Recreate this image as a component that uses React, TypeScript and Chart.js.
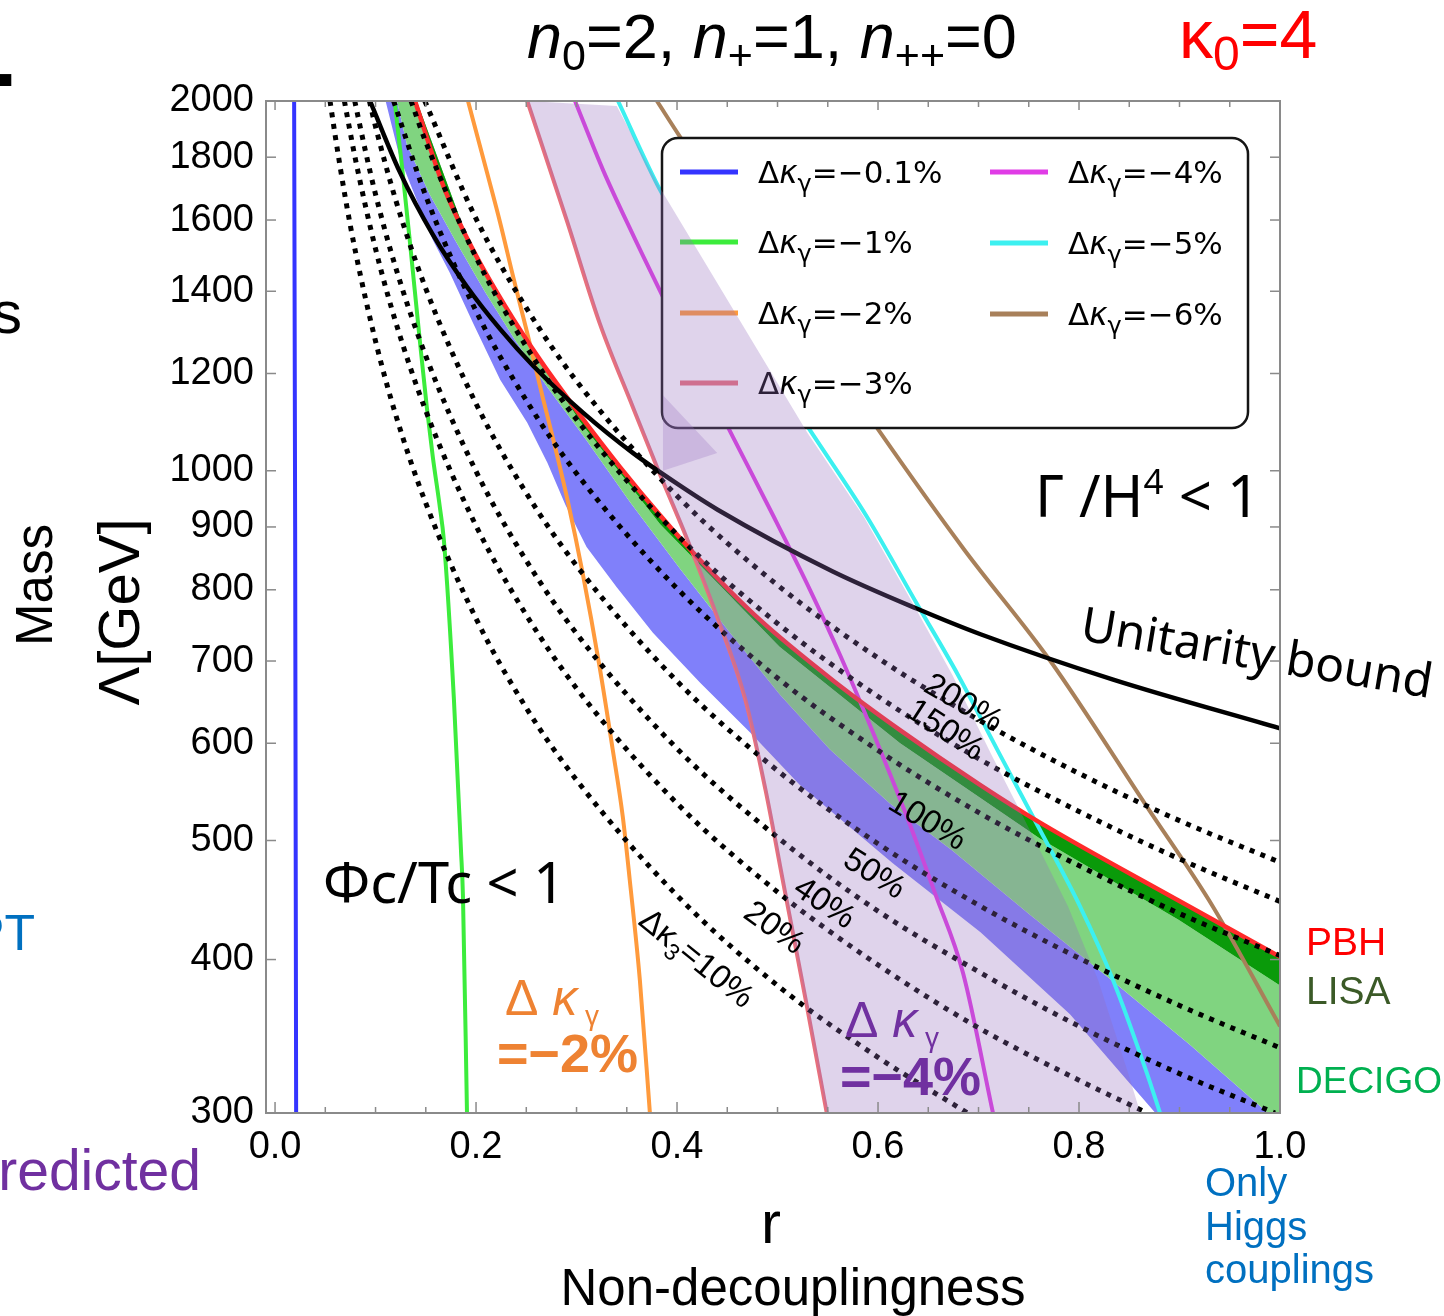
import React, { useEffect, useRef } from 'react';
import { Chart, registerables } from 'chart.js';

Chart.register(...registerables);

// ---------------- axes ----------------
const xTickValues = [0, 0.2, 0.4, 0.6, 0.8, 1.0];
const xMinorTickValues = [0, 0.05, 0.1, 0.15, 0.2, 0.25, 0.3, 0.35, 0.4, 0.45, 0.5, 0.55, 0.6, 0.65, 0.7, 0.75, 0.8, 0.85, 0.9, 0.95, 1.0];
const yTickValues = [300, 400, 500, 600, 700, 800, 900, 1000, 1200, 1400, 1600, 1800, 2000];

// ---------------- Δκγ lines (r, Λ) ----------------
const kg01R = [0.019, 0.020, 0.021];
const kg01M = [2000, 900, 300];
const kg1R = [0.119, 0.127, 0.134, 0.139, 0.144, 0.151, 0.157, 0.164, 0.168, 0.178, 0.185, 0.187, 0.191];
const kg1M = [2000, 1748, 1541, 1403, 1278, 1127, 1026, 934, 878, 651, 491, 450, 300];
const kg2R = [0.192, 0.211, 0.224, 0.237, 0.251, 0.267, 0.277, 0.291, 0.306, 0.323, 0.336, 0.346, 0.353, 0.363, 0.373];
const kg2M = [2000, 1748, 1592, 1438, 1294, 1142, 1059, 947, 826, 692, 593, 523, 464, 385, 300];
const kg3R = [0.251, 0.291, 0.323, 0.356, 0.380, 0.410, 0.440, 0.468, 0.488, 0.507, 0.528, 0.549];
const kg3M = [2000, 1592, 1319, 1127, 1007, 880, 760, 651, 550, 456, 371, 300];
const kg4R = [0.2985, 0.3264, 0.3562, 0.3861, 0.4209, 0.4557, 0.4955, 0.5323, 0.5622, 0.602, 0.6318, 0.6567, 0.6846, 0.7144];
const kg4M = [2000, 1757, 1556, 1385, 1213, 1065, 920, 800, 708, 593, 515, 453, 390, 300];
const kg5R = [0.3413, 0.3831, 0.4577, 0.5323, 0.5891, 0.6388, 0.6796, 0.7214, 0.7612, 0.801, 0.8338, 0.8677, 0.8806];
const kg5M = [2000, 1693, 1339, 1079, 917, 779, 682, 587, 510, 442, 385, 323, 300];
const kg6R = [0.380, 0.403, 0.602, 0.686, 0.771, 0.868, 0.933, 1.0];
const kg6M = [2000, 1870, 1075, 862, 701, 532, 442, 353];

// ---------------- unitarity bound ----------------
const unitR = [0.0945, 0.124, 0.157, 0.191, 0.224, 0.257, 0.307, 0.356, 0.400, 0.440, 0.555, 0.639, 0.702, 0.834, 1.0];
const unitM = [2000, 1752, 1557, 1412, 1304, 1217, 1114, 1034, 976, 930, 828, 772, 736, 676, 617];

// ---------------- Δκ3 contours ----------------
const k10R = [0.0547, 0.06, 0.07, 0.08, 0.1, 0.12, 0.15, 0.2, 0.25, 0.3, 0.4, 0.5, 0.6, 0.689];
const k10M = [2000, 1871, 1667, 1508, 1275, 1111, 941, 758, 641, 560, 451, 381, 333, 300];
const k20R = [0.069, 0.08, 0.1, 0.12, 0.15, 0.2, 0.25, 0.3, 0.4, 0.5, 0.6, 0.7, 0.8, 0.868];
const k20M = [2000, 1793, 1516, 1322, 1119, 902, 763, 665, 536, 454, 396, 352, 319, 300];
const k40R = [0.0793, 0.09, 0.1, 0.12, 0.15, 0.2, 0.25, 0.3, 0.4, 0.5, 0.6, 0.7, 0.8, 0.9, 0.995];
const k40M = [2000, 1820, 1679, 1464, 1240, 999, 845, 737, 594, 503, 438, 391, 353, 323, 300];
const k50R = [0.0939, 0.1, 0.12, 0.15, 0.2, 0.25, 0.3, 0.4, 0.5, 0.6, 0.7, 0.8, 0.9, 1.0];
const k50M = [2000, 1906, 1662, 1407, 1134, 959, 837, 674, 570, 497, 443, 401, 367, 339];
const k100R = [0.118, 0.15, 0.2, 0.25, 0.3, 0.4, 0.5, 0.6, 0.7, 0.8, 0.9, 1.0];
const k100M = [2000, 1674, 1349, 1141, 995, 802, 678, 592, 527, 477, 436, 403];
const k150R = [0.1353, 0.15, 0.2, 0.25, 0.3, 0.4, 0.5, 0.6, 0.7, 0.8, 0.9, 1.0];
const k150M = [2000, 1852, 1492, 1262, 1101, 887, 751, 655, 583, 528, 483, 446];
const k200R = [0.149, 0.2, 0.25, 0.3, 0.4, 0.5, 0.6, 0.7, 0.8, 0.9, 1.0];
const k200M = [2000, 1604, 1357, 1183, 954, 807, 704, 627, 567, 519, 480];

// ---------------- GW / Higgs bands ----------------
const pbhR = [0.1393, 0.1672, 0.197, 0.2289, 0.2637, 0.3035, 0.3433, 0.3831, 0.4229, 0.4826, 0.5552, 0.6219, 0.7015, 0.7612, 0.8985, 1.0];
const pbhM = [2000, 1708, 1513, 1362, 1231, 1110, 1007, 920, 846, 756, 675, 615, 555, 517, 447, 402];
const lisaLowR = [0.141, 0.197, 0.3035, 0.383, 0.502, 0.622, 0.761, 0.899, 1.0, 1.0];
const lisaLowM = [2000, 1502, 1096, 905, 719, 600, 502, 431, 381, 300];
const higgsUpR = [0.1214, 0.1313, 0.1542, 0.1791, 0.209, 0.2388, 0.2716, 0.3085, 0.3532, 0.403, 0.4527, 0.5025, 0.5522, 0.6119, 0.6736, 0.7512, 0.8289, 0.9104, 0.988];
const higgsUpM = [2000, 1842, 1677, 1541, 1398, 1278, 1168, 1063, 943, 832, 738, 657, 593, 536, 491, 435, 387, 341, 300];
const higgsLowR = [0.110, 0.124, 0.141, 0.157, 0.174, 0.197, 0.224, 0.251, 0.271, 0.289, 0.310, 0.340, 0.376, 0.423, 0.473, 0.522, 0.615, 0.702, 0.791, 0.876];
const higgsLowM = [2000, 1800, 1661, 1541, 1449, 1319, 1186, 1094, 1015, 938, 867, 804, 738, 672, 612, 555, 479, 421, 361, 300];
// predicted Δκγ = -4% region, right boundary (left boundary = Δκγ=-3% line)
const predRightR = [0.340, 0.383, 0.530, 0.586, 0.635, 0.674, 0.713, 0.751, 0.789, 0.819, 0.849, 0.861];
const predRightM = [1981, 1700, 1073, 917, 779, 682, 587, 510, 442, 385, 323, 300];
// darker overlap patch inside the predicted region
const patchR = [0.386, 0.440, 0.386];
const patchM = [1152, 1034, 1000];

// ---------------- legend ----------------
const legendLabels = ['−0.1%', '−1%', '−2%', '−3%', '−4%', '−5%', '−6%'];
const lineColors = ['#3434ff', '#3cec3c', '#ff9a3c', '#e8707c', '#e03ce6', '#3cf0f0', '#a8805a'];

const SANS = '"Liberation Sans", Arial, sans-serif';
const NOTO = '"Noto Sans", sans-serif';
const DJV = '"DejaVu Sans", sans-serif';

const pts = (r: number[], m: number[]) => r.map((x, i) => ({ x, y: m[i] }));
const poly = (r1: number[], m1: number[], r2: number[], m2: number[]) => [...pts(r1, m1), ...pts(r2, m2).reverse()];

type Seg = { t: string; f: string; dy?: number };
function drawRich(ctx: CanvasRenderingContext2D, x: number, y: number, segs: Seg[]) {
  let cx = x;
  for (const s of segs) {
    ctx.font = s.f;
    ctx.fillText(s.t, cx, y + (s.dy || 0));
    cx += ctx.measureText(s.t).width;
  }
  return cx - x;
}
function richWidth(ctx: CanvasRenderingContext2D, segs: Seg[]) {
  let w = 0;
  for (const s of segs) {
    ctx.font = s.f;
    w += ctx.measureText(s.t).width;
  }
  return w;
}
function rotated(ctx: CanvasRenderingContext2D, segs: Seg[], cx: number, cy: number, deg: number, color: string) {
  ctx.save();
  ctx.translate(cx, cy);
  ctx.rotate((deg * Math.PI) / 180);
  ctx.fillStyle = color;
  const w = richWidth(ctx, segs);
  drawRich(ctx, -w / 2, 11, segs);
  ctx.restore();
}

function drawLegend(ctx: CanvasRenderingContext2D) {
  const x0 = 662, y0 = 138, w = 586, h = 290, rad = 16;
  ctx.save();
  ctx.beginPath();
  ctx.moveTo(x0 + rad, y0);
  ctx.lineTo(x0 + w - rad, y0);
  ctx.arcTo(x0 + w, y0, x0 + w, y0 + rad, rad);
  ctx.lineTo(x0 + w, y0 + h - rad);
  ctx.arcTo(x0 + w, y0 + h, x0 + w - rad, y0 + h, rad);
  ctx.lineTo(x0 + rad, y0 + h);
  ctx.arcTo(x0, y0 + h, x0, y0 + h - rad, rad);
  ctx.lineTo(x0, y0 + rad);
  ctx.arcTo(x0, y0, x0 + rad, y0, rad);
  ctx.closePath();
  ctx.fillStyle = '#ffffff';
  ctx.fill();
  ctx.lineWidth = 2.5;
  ctx.strokeStyle = '#151515';
  ctx.stroke();
  const rows = [[680, 172], [680, 242], [680, 313], [680, 383], [990, 172], [990, 243], [990, 314]];
  legendLabels.forEach((lab, i) => {
    const [lx, ly] = rows[i];
    ctx.strokeStyle = lineColors[i];
    ctx.lineWidth = 5;
    ctx.beginPath();
    ctx.moveTo(lx, ly);
    ctx.lineTo(lx + 58, ly);
    ctx.stroke();
    ctx.fillStyle = '#000';
    drawRich(ctx, lx + 78, ly + 11, [
      { t: 'Δ', f: `31px ${DJV}` },
      { t: 'κ', f: `italic 31px ${DJV}` },
      { t: 'γ', f: `24px ${DJV}`, dy: 9 },
      { t: '=' + lab, f: `31px ${DJV}` },
    ]);
  });
  ctx.restore();
}

function drawFrame(chart: any) {
  const { ctx, chartArea: a, scales } = chart;
  ctx.save();
  ctx.strokeStyle = '#8a8a8a';
  ctx.lineWidth = 1.5;
  const seg = (x1: number, y1: number, x2: number, y2: number) => {
    ctx.beginPath();
    ctx.moveTo(x1, y1);
    ctx.lineTo(x2, y2);
    ctx.stroke();
  };
  xMinorTickValues.forEach((v) => {
    const px = scales.x.getPixelForValue(v);
    const major = xTickValues.includes(v);
    seg(px, a.bottom, px, a.bottom - (major ? 11 : 6));
    seg(px, a.top, px, a.top + (major ? 9 : 6));
  });
  yTickValues.forEach((v) => {
    const py = scales.y.getPixelForValue(v);
    seg(a.left, py, a.left + 10, py);
    seg(a.right, py, a.right - 10, py);
  });
  ctx.lineWidth = 2;
  ctx.strokeRect(a.left, a.top, a.right - a.left, a.bottom - a.top);
  ctx.restore();
}

function drawTexts(ctx: CanvasRenderingContext2D) {
  ctx.save();
  ctx.textBaseline = 'alphabetic';
  ctx.textAlign = 'left';
  // title
  ctx.fillStyle = '#000';
  const it = `italic 63px ${SANS}`, rg = `63px ${SANS}`, sb = `43px ${SANS}`;
  drawRich(ctx, 527, 58, [
    { t: 'n', f: it }, { t: '0', f: sb, dy: 12 }, { t: '=2, ', f: rg },
    { t: 'n', f: it }, { t: '+', f: sb, dy: 12 }, { t: '=1, ', f: rg },
    { t: 'n', f: it }, { t: '++', f: sb, dy: 12 }, { t: '=0', f: rg },
  ]);
  ctx.fillStyle = '#ff0000';
  drawRich(ctx, 1179, 58, [
    { t: 'κ', f: `68px ${SANS}` }, { t: '0', f: `48px ${SANS}`, dy: 12 }, { t: '=4', f: `68px ${SANS}` },
  ]);

  // axis titles
  ctx.fillStyle = '#000';
  ctx.textAlign = 'center';
  ctx.font = `60px ${SANS}`;
  ctx.fillText('r', 771, 1243);
  ctx.font = `51px ${SANS}`;
  ctx.fillText('Non-decouplingness', 793, 1305);
  ctx.save();
  ctx.translate(123, 612);
  ctx.rotate(-Math.PI / 2);
  ctx.textBaseline = 'middle';
  ctx.font = `58px ${SANS}`;
  ctx.fillText('Λ[GeV]', 0, 0);
  ctx.restore();
  ctx.save();
  ctx.translate(38, 585);
  ctx.rotate(-Math.PI / 2);
  ctx.textBaseline = 'middle';
  ctx.font = `51px ${SANS}`;
  ctx.fillText('Mass', 0, 0);
  ctx.restore();
  ctx.textAlign = 'left';

  // region annotations
  ctx.fillStyle = '#000';
  drawRich(ctx, 1035, 517, [
    { t: 'Γ /H', f: `58px ${NOTO}` }, { t: '4', f: `35px ${NOTO}`, dy: -23 }, { t: ' < 1', f: `58px ${NOTO}` },
  ]);
  ctx.font = `56px ${NOTO}`;
  ctx.fillText('Φc/Tc < 1', 323, 903);
  ctx.save();
  ctx.translate(1079, 640);
  ctx.rotate((9.4 * Math.PI) / 180);
  ctx.font = `48px ${NOTO}`;
  ctx.fillText('Unitarity bound', 0, 0);
  ctx.restore();

  // contour labels
  const cf = `33px ${SANS}`;
  rotated(ctx, [{ t: '200%', f: cf }], 964, 702, 30, '#000');
  rotated(ctx, [{ t: '150%', f: cf }], 946, 729, 33, '#000');
  rotated(ctx, [{ t: '100%', f: cf }], 928, 820, 31, '#000');
  rotated(ctx, [{ t: '50%', f: cf }], 875, 873, 32, '#000');
  rotated(ctx, [{ t: '40%', f: cf }], 825, 902, 34, '#000');
  rotated(ctx, [{ t: '20%', f: cf }], 775, 927, 36, '#000');
  rotated(ctx, [{ t: 'Δκ', f: cf }, { t: '3', f: `23px ${SANS}`, dy: 8 }, { t: '=10%', f: cf }], 697, 958, 39, '#000');

  // Δκγ annotations
  ctx.fillStyle = '#ee8232';
  drawRich(ctx, 505, 1015, [
    { t: 'Δ ', f: `50px ${SANS}` }, { t: 'κ', f: `italic 50px ${SANS}` }, { t: ' γ', f: `28px ${SANS}`, dy: 10 },
  ]);
  ctx.font = `bold 54px ${SANS}`;
  ctx.fillText('=−2%', 497, 1072);
  ctx.fillStyle = '#7030a0';
  drawRich(ctx, 845, 1037, [
    { t: 'Δ ', f: `50px ${SANS}` }, { t: 'κ', f: `italic 50px ${SANS}` }, { t: ' γ', f: `28px ${SANS}`, dy: 10 },
  ]);
  ctx.font = `bold 54px ${SANS}`;
  ctx.fillText('=−4%', 840, 1095);

  // right side labels
  ctx.font = `39px ${SANS}`;
  ctx.fillStyle = '#ff0000';
  ctx.fillText('PBH', 1306, 955);
  ctx.fillStyle = '#3b5a27';
  ctx.fillText('LISA', 1306, 1004);
  ctx.fillStyle = '#00b050';
  ctx.font = `37px ${SANS}`;
  ctx.fillText('DECIGO', 1296, 1093);
  ctx.fillStyle = '#0070c0';
  ctx.font = `40px ${SANS}`;
  ctx.fillText('Only', 1205, 1196);
  ctx.fillText('Higgs', 1205, 1240);
  ctx.fillText('couplings', 1205, 1283);

  // cut-off texts at the left border
  ctx.fillStyle = '#000';
  ctx.font = `bold 100px ${SANS}`;
  ctx.fillText('-', -18, 106);
  ctx.font = `60px ${SANS}`;
  ctx.fillText('s', -8, 333);
  ctx.fillStyle = '#0070c0';
  ctx.font = `50px ${SANS}`;
  ctx.textAlign = 'right';
  ctx.fillText('PT', 35, 950);
  ctx.fillStyle = '#7030a0';
  ctx.font = `57px ${SANS}`;
  ctx.fillText('Predicted', 201, 1190);
  ctx.restore();
}

const overlayPlugin = {
  id: 'overlay',
  afterDatasetDraw(chart: any, args: any) {
    if (args.index === 2) drawLegend(chart.ctx);
  },
  afterDatasetsDraw(chart: any) {
    drawFrame(chart);
  },
  afterDraw(chart: any) {
    drawTexts(chart.ctx);
  },
};

function curve(r: number[], m: number[], color: string, width: number, extra: any = {}) {
  return {
    data: pts(r, m),
    borderColor: color,
    borderWidth: width,
    pointRadius: 0,
    fill: false,
    cubicInterpolationMode: 'monotone',
    ...extra,
  };
}
function dotted(r: number[], m: number[]) {
  return curve(r, m, '#000', 5, { borderDash: [5, 6.5], borderCapStyle: 'butt' });
}
function shape(data: any[], color: string) {
  return { data, backgroundColor: color, borderColor: 'transparent', borderWidth: 0, pointRadius: 0, fill: 'shape', tension: 0 };
}

export default function App() {
  const ref = useRef<HTMLCanvasElement>(null);
  useEffect(() => {
    const canvas = ref.current;
    if (!canvas) return;
    const datasets: any[] = [
      shape(pts(patchR, patchM), 'rgba(150,110,190,0.28)'), // 0 darker patch
      shape(poly(kg3R, kg3M, predRightR, predRightM), 'rgba(150,110,190,0.30)'), // 1 predicted region
      curve(unitR, unitM, '#000', 4.5), // 2 unitarity
      dotted(k10R, k10M),
      dotted(k20R, k20M),
      dotted(k40R, k40M),
      dotted(k50R, k50M),
      dotted(k100R, k100M),
      dotted(k150R, k150M),
      dotted(k200R, k200M),
      curve(pbhR, pbhM, '#ff2a2a', 4.5),
      curve(kg5R, kg5M, lineColors[5], 4),
      curve(kg4R, kg4M, lineColors[4], 4),
      curve(kg6R, kg6M, lineColors[6], 4),
      curve(kg3R, kg3M, lineColors[3], 4),
      curve(kg2R, kg2M, lineColors[2], 4),
      curve(kg1R, kg1M, lineColors[1], 4),
      curve(kg01R, kg01M, lineColors[0], 4, { cubicInterpolationMode: 'default', tension: 0 }),
      shape(poly(pbhR, pbhM, lisaLowR.slice(0, 9), lisaLowM.slice(0, 9)), '#0a9a0a'), // LISA dark green
      shape(poly(lisaLowR, lisaLowM, higgsUpR, higgsUpM), '#80d480'), // DECIGO light green
      shape(poly(higgsUpR, higgsUpM, higgsLowR, higgsLowM), '#8080fa'), // Higgs couplings blue
    ];
    const chart = new Chart(canvas, {
      type: 'line',
      data: { datasets },
      options: {
        animation: false,
        responsive: true,
        maintainAspectRatio: false,
        events: [],
        layout: { padding: { left: 0, right: 164, top: 101, bottom: 0 } },
        plugins: { legend: { display: false }, tooltip: { enabled: false }, filler: { propagate: false } },
        elements: { point: { radius: 0 } },
        scales: {
          x: {
            type: 'linear',
            min: -0.009,
            max: 1.0,
            afterBuildTicks: (s: any) => { s.ticks = xTickValues.map((v) => ({ value: v })); },
            afterFit: (s: any) => { s.height = 203; },
            grid: { display: false, drawTicks: false },
            border: { display: false },
            ticks: {
              autoSkip: false,
              maxRotation: 0,
              padding: 12,
              color: '#000',
              font: { family: 'Liberation Sans', size: 38 },
              callback: (v: any) => Number(v).toFixed(1),
            },
          },
          y: {
            type: 'logarithmic',
            min: 300,
            max: 2000,
            afterBuildTicks: (s: any) => { s.ticks = yTickValues.map((v) => ({ value: v })); },
            afterFit: (s: any) => { s.width = 266; },
            grid: { display: false, drawTicks: false },
            border: { display: false },
            ticks: {
              autoSkip: false,
              padding: 12,
              color: '#000',
              font: { family: 'Liberation Sans', size: 38 },
              callback: (v: any) => String(v),
            },
          },
        },
      } as any,
      plugins: [overlayPlugin as any],
    });
    return () => chart.destroy();
  }, []);
  return (
    <div style={{ position: 'absolute', left: 0, top: 0, width: 1444, height: 1316, background: '#ffffff', overflow: 'hidden' }}>
      <canvas ref={ref} />
    </div>
  );
}
